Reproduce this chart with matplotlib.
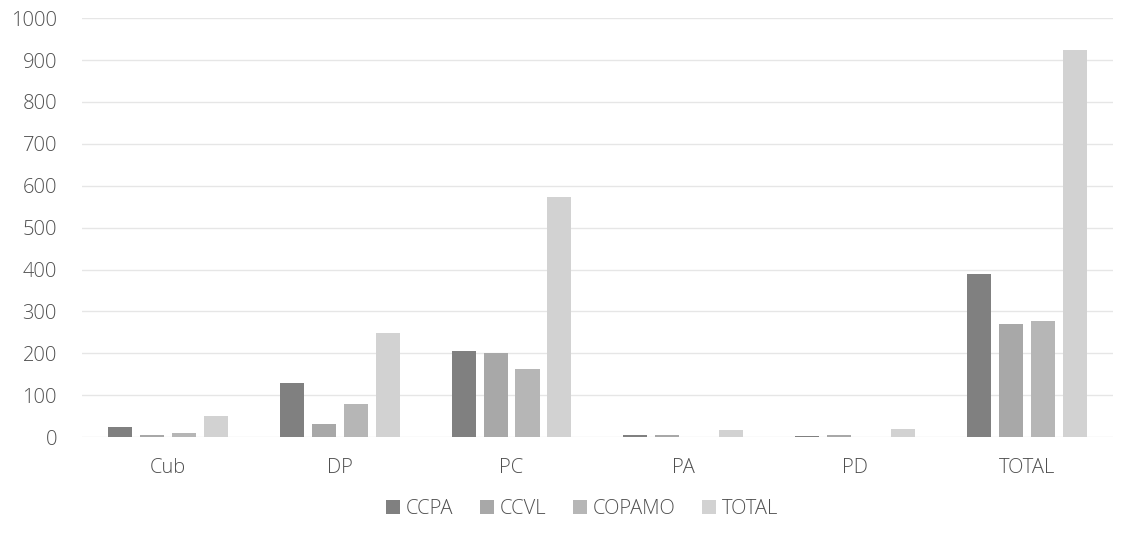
import numpy as np
import matplotlib
matplotlib.use('Agg')
import matplotlib.pyplot as plt

# Dati
categorie = ['Cub', 'DP', 'PC', 'PA', 'PD', 'TOTAL']
ccpa = [25, 129, 206, 5, 2, 389]
ccvl = [6, 31, 200, 5, 5, 269]
copamo = [9, 80, 163, 0, 1, 276]
totale = [51, 249, 573, 18, 19, 923]

serie = ['CCPA', 'CCVL', 'COPAMO', 'TOTAL']
colori = ['#808080', '#a8a8a8', '#b6b6b6', '#d2d2d2']

plt.rcParams['font.family'] = ['Open Sans', 'DejaVu Sans']
plt.rcParams['font.weight'] = 'light'

fig = plt.figure(figsize=(11.23, 5.35), dpi=100)
ax = fig.add_axes([0.073, 0.183, 0.918, 0.783])

x = np.arange(len(categorie))
passo = 0.186
larghezza = 0.14
for i, (nome, valori) in enumerate(zip(serie, [ccpa, ccvl, copamo, totale])):
    ax.bar(x + (i - 1.5) * passo, valori, width=larghezza, color=colori[i], label=nome, zorder=2)

ax.set_xlim(-0.5, len(categorie) - 0.5)
ax.set_ylim(0, 1000)
ax.set_yticks(range(0, 1001, 100))
ax.set_xticks(x)
ax.set_xticklabels(categorie)
ax.grid(axis='y', color='#e6e6e6', linewidth=1, zorder=0)
for s in ax.spines.values():
    s.set_visible(False)
ax.tick_params(axis='both', length=0, labelsize=14.5, colors='#505050')
ax.tick_params(axis='x', pad=15)
ax.tick_params(axis='y', pad=18)

ax.legend(loc='upper center', bbox_to_anchor=(0.485, -0.105), ncol=4, frameon=False,
          fontsize=14.5, labelcolor='#505050', handlelength=0.7, handleheight=0.7,
          handletextpad=0.3, columnspacing=1.3)

fig.savefig('out.png', dpi=100)
